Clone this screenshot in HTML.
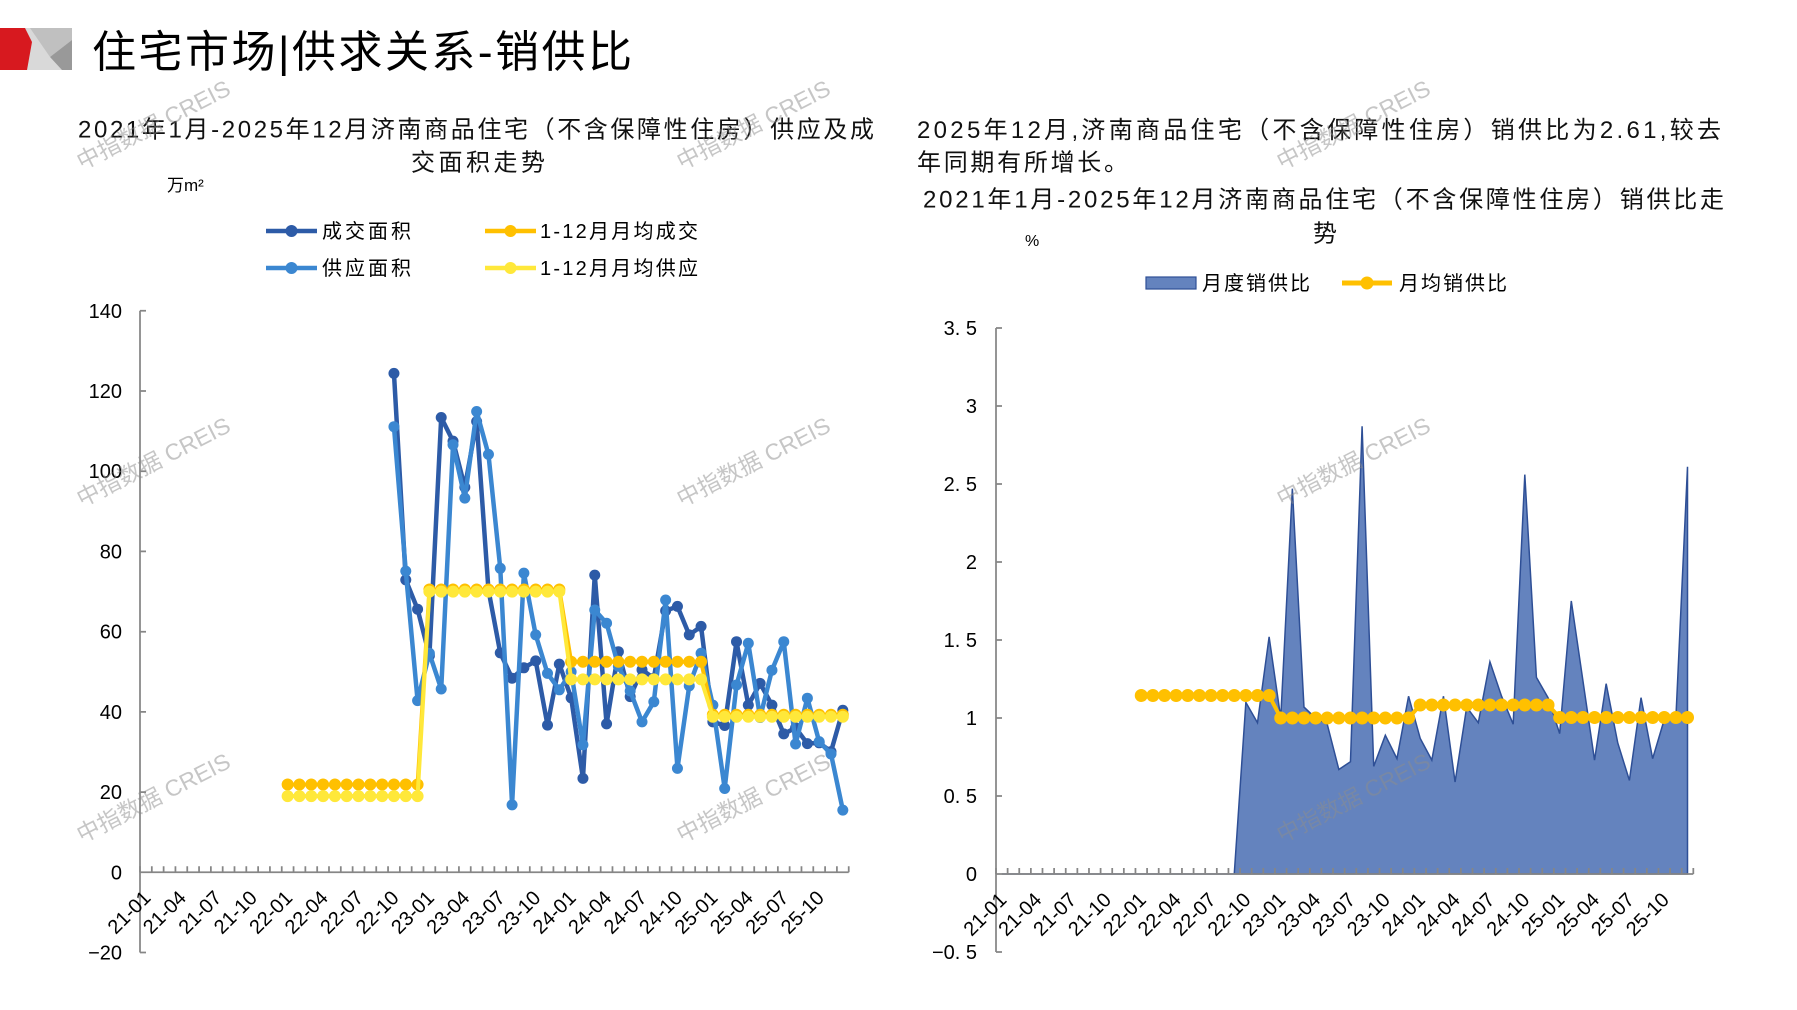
<!DOCTYPE html>
<html><head><meta charset="utf-8"><style>
html,body{margin:0;padding:0;background:#fff;overflow:hidden;}
svg{display:block;}
.cj{font-family:"Liberation Sans","Noto Sans CJK SC",sans-serif;}
.ax{font-family:"Liberation Sans","Noto Sans CJK SC",sans-serif;font-size:20px;fill:#000;}
.wm{font-family:"Liberation Sans","Noto Sans CJK SC",sans-serif;font-size:23px;fill:#8c8c8c;opacity:0.5;}
</style></head><body>
<svg width="1797" height="1010" viewBox="0 0 1797 1010" xmlns="http://www.w3.org/2000/svg">
<defs>
<marker id="mD" markerWidth="14" markerHeight="14" refX="7" refY="7" markerUnits="userSpaceOnUse"><circle cx="7" cy="7" r="5.5" fill="#2D5BA7"/></marker>
<marker id="mL" markerWidth="14" markerHeight="14" refX="7" refY="7" markerUnits="userSpaceOnUse"><circle cx="7" cy="7" r="5.5" fill="#3B87D1"/></marker>
<marker id="mO" markerWidth="14" markerHeight="14" refX="7" refY="7" markerUnits="userSpaceOnUse"><circle cx="7" cy="7" r="6" fill="#FFC000"/></marker>
<marker id="mY" markerWidth="14" markerHeight="14" refX="7" refY="7" markerUnits="userSpaceOnUse"><circle cx="7" cy="7" r="6" fill="#FFE83A"/></marker>
<marker id="mR" markerWidth="16" markerHeight="16" refX="8" refY="8" markerUnits="userSpaceOnUse"><circle cx="8" cy="8" r="6.5" fill="#FFC000"/></marker>
</defs>

<!-- logo -->
<rect x="24" y="28" width="48" height="42" fill="#d9d9d9"/>
<polygon points="30,28 72,28 72,40 50,57" fill="#c0c0c0"/>
<polygon points="50,57 72,40 72,70 62,70" fill="#999999"/>
<polygon points="0,28 25,28 32,42 27,70 0,70" fill="#d7191f"/>

<!-- header title -->
<text class="cj" x="92" y="67" font-size="44" textLength="540" lengthAdjust="spacing" fill="#000">住宅市场|供求关系-销供比</text>

<!-- left titles -->
<text class="cj" x="78" y="137.5" font-size="24" textLength="796" lengthAdjust="spacing" fill="#111">2021年1月-2025年12月济南商品住宅（不含保障性住房）供应及成</text>
<text class="cj" x="411" y="170.5" font-size="24" textLength="134" lengthAdjust="spacing" fill="#111">交面积走势</text>
<text class="cj" x="167" y="191" font-size="17" fill="#000">万m²</text>

<!-- left legend -->
<line x1="266" y1="231" x2="317" y2="231" stroke="#2D5BA7" stroke-width="4.5"/><circle cx="291.5" cy="231" r="6" fill="#2D5BA7"/>
<text class="cj" x="322" y="238" font-size="20" textLength="89" lengthAdjust="spacing">成交面积</text>
<line x1="485" y1="231" x2="536" y2="231" stroke="#FFC000" stroke-width="4.5"/><circle cx="510.5" cy="231" r="6" fill="#FFC000"/>
<text class="cj" x="540" y="238" font-size="20" textLength="158" lengthAdjust="spacing">1-12月月均成交</text>
<line x1="266" y1="268" x2="317" y2="268" stroke="#3B87D1" stroke-width="4.5"/><circle cx="291.5" cy="268" r="6" fill="#3B87D1"/>
<text class="cj" x="322" y="275" font-size="20" textLength="89" lengthAdjust="spacing">供应面积</text>
<line x1="485" y1="268" x2="536" y2="268" stroke="#FFE83A" stroke-width="4.5"/><circle cx="510.5" cy="268" r="6" fill="#FFE83A"/>
<text class="cj" x="540" y="275" font-size="20" textLength="158" lengthAdjust="spacing">1-12月月均供应</text>

<!-- left axes -->
<g stroke="#868686" stroke-width="1.75" fill="none">
<line x1="140" y1="310.8" x2="140" y2="952.5"/>
<line x1="140" y1="872.3" x2="848.7" y2="872.3"/>
<path d="M140 310.8h6M140 391h6M140 471.2h6M140 551.4h6M140 631.7h6M140 711.9h6M140 792.1h6M140 952.5h6"/>
</g>
<line x1="139.125" y1="869.3" x2="849.6" y2="869.3" stroke="#868686" stroke-width="6" stroke-dasharray="1.75 10.062"/>
<g class="ax" text-anchor="end">
<text x="122" y="317.8">140</text>
<text x="122" y="398">120</text>
<text x="122" y="478.2">100</text>
<text x="122" y="558.4">80</text>
<text x="122" y="638.7">60</text>
<text x="122" y="718.9">40</text>
<text x="122" y="799.1">20</text>
<text x="122" y="879.3">0</text>
<text x="122" y="959.5">−20</text>
</g>
<g class="ax" text-anchor="end">
<text transform="translate(151.9,899) rotate(-45)">21-01</text>
<text transform="translate(187.3,899) rotate(-45)">21-04</text>
<text transform="translate(222.8,899) rotate(-45)">21-07</text>
<text transform="translate(258.2,899) rotate(-45)">21-10</text>
<text transform="translate(293.6,899) rotate(-45)">22-01</text>
<text transform="translate(329.1,899) rotate(-45)">22-04</text>
<text transform="translate(364.5,899) rotate(-45)">22-07</text>
<text transform="translate(400,899) rotate(-45)">22-10</text>
<text transform="translate(435.4,899) rotate(-45)">23-01</text>
<text transform="translate(470.8,899) rotate(-45)">23-04</text>
<text transform="translate(506.3,899) rotate(-45)">23-07</text>
<text transform="translate(541.7,899) rotate(-45)">23-10</text>
<text transform="translate(577.1,899) rotate(-45)">24-01</text>
<text transform="translate(612.6,899) rotate(-45)">24-04</text>
<text transform="translate(648,899) rotate(-45)">24-07</text>
<text transform="translate(683.4,899) rotate(-45)">24-10</text>
<text transform="translate(718.9,899) rotate(-45)">25-01</text>
<text transform="translate(754.3,899) rotate(-45)">25-04</text>
<text transform="translate(789.8,899) rotate(-45)">25-07</text>
<text transform="translate(825.2,899) rotate(-45)">25-10</text>
</g>

<!-- left series -->
<g fill="none" stroke-linejoin="round" stroke-linecap="round">
<polyline stroke="#2D5BA7" stroke-width="4.5" marker-start="url(#mD)" marker-mid="url(#mD)" marker-end="url(#mD)" points="393.96,373.4 405.77,579.9 417.58,609.2 429.39,655.7 441.21,417.5 453.02,441.1 464.83,487.3 476.64,421.5 488.45,589.9 500.27,652.9 512.08,678.2 523.89,667.8 535.70,660.9 547.51,725.1 559.33,664.1 571.14,697.8 582.95,778.4 594.76,575.1 606.57,723.9 618.39,651.7 630.20,696.6 642.01,669.8 653.82,678.2 665.63,610.8 677.45,606.4 689.26,634.9 701.07,626.4 712.88,721.9 724.69,725.5 736.51,641.7 748.32,705.1 760.13,683.4 771.94,705.1 783.75,733.9 795.57,727.9 807.38,743.6 819.19,742.8 831.00,751.6 842.82,710.3"/>
<polyline stroke="#3B87D1" stroke-width="4.5" marker-start="url(#mL)" marker-mid="url(#mL)" marker-end="url(#mL)" points="393.96,426.7 405.77,571.1 417.58,700.6 429.39,653.3 441.21,689.0 453.02,444.8 464.83,498.1 476.64,411.5 488.45,454.4 500.27,568.3 512.08,804.9 523.89,573.1 535.70,634.9 547.51,673.4 559.33,689.8 571.14,671.8 582.95,744.8 594.76,610.0 606.57,623.2 618.39,666.2 630.20,691.0 642.01,721.9 653.82,701.8 665.63,600.0 677.45,768.4 689.26,685.8 701.07,653.3 712.88,705.1 724.69,788.5 736.51,685.0 748.32,643.3 760.13,717.5 771.94,670.2 783.75,641.7 795.57,744.0 807.38,698.2 819.19,741.6 831.00,754.0 842.82,810.1"/>
<polyline stroke="#FFC000" stroke-width="4" marker-start="url(#mO)" marker-mid="url(#mO)" marker-end="url(#mO)" points="287.65,784.5 299.46,784.5 311.27,784.5 323.09,784.5 334.90,784.5 346.71,784.5 358.52,784.5 370.33,784.5 382.15,784.5 393.96,784.5 405.77,784.5 417.58,784.5 429.39,589.5 441.21,589.5 453.02,589.5 464.83,589.5 476.64,589.5 488.45,589.5 500.27,589.5 512.08,589.5 523.89,589.5 535.70,589.5 547.51,589.5 559.33,589.5 571.14,661.7 582.95,661.7 594.76,661.7 606.57,661.7 618.39,661.7 630.20,661.7 642.01,661.7 653.82,661.7 665.63,661.7 677.45,661.7 689.26,661.7 701.07,661.7 712.88,714.7 724.69,714.7 736.51,714.7 748.32,714.7 760.13,714.7 771.94,714.7 783.75,714.7 795.57,714.7 807.38,714.7 819.19,714.7 831.00,714.7 842.82,714.7"/>
<polyline stroke="#FFE83A" stroke-width="4" marker-start="url(#mY)" marker-mid="url(#mY)" marker-end="url(#mY)" points="287.65,796.1 299.46,796.1 311.27,796.1 323.09,796.1 334.90,796.1 346.71,796.1 358.52,796.1 370.33,796.1 382.15,796.1 393.96,796.1 405.77,796.1 417.58,796.1 429.39,591.6 441.21,591.6 453.02,591.6 464.83,591.6 476.64,591.6 488.45,591.6 500.27,591.6 512.08,591.6 523.89,591.6 535.70,591.6 547.51,591.6 559.33,591.6 571.14,679.4 582.95,679.4 594.76,679.4 606.57,679.4 618.39,679.4 630.20,679.4 642.01,679.4 653.82,679.4 665.63,679.4 677.45,679.4 689.26,679.4 701.07,679.4 712.88,716.7 724.69,716.7 736.51,716.7 748.32,716.7 760.13,716.7 771.94,716.7 783.75,716.7 795.57,716.7 807.38,716.7 819.19,716.7 831.00,716.7 842.82,716.7"/>
</g>

<!-- right titles -->
<text class="cj" x="917" y="138" font-size="24" textLength="804" lengthAdjust="spacing" fill="#111">2025年12月,济南商品住宅（不含保障性住房）销供比为2.61,较去</text>
<text class="cj" x="917" y="170.5" font-size="24" textLength="211" lengthAdjust="spacing" fill="#111">年同期有所增长。</text>
<text class="cj" x="923" y="207.5" font-size="24" textLength="801" lengthAdjust="spacing" fill="#111">2021年1月-2025年12月济南商品住宅（不含保障性住房）销供比走</text>
<text class="cj" x="1325" y="241.5" font-size="24" text-anchor="middle" fill="#111">势</text>
<text class="cj" x="1025" y="246" font-size="16" fill="#000">%</text>

<!-- right legend -->
<rect x="1146" y="277" width="50" height="12" fill="#6483BE" stroke="#2E4F96" stroke-width="1.2"/>
<text class="cj" x="1202" y="290" font-size="20" textLength="108" lengthAdjust="spacing">月度销供比</text>
<line x1="1342" y1="283" x2="1392" y2="283" stroke="#FFC000" stroke-width="5"/><circle cx="1367" cy="283" r="6.5" fill="#FFC000"/>
<text class="cj" x="1399" y="290" font-size="20" textLength="108" lengthAdjust="spacing">月均销供比</text>

<!-- right area -->
<polygon fill="#6483BE" stroke="#2E4F96" stroke-width="1.5" stroke-linejoin="miter" points="1001.81,874 1234.25,874 1245.87,702.4 1257.49,722.7 1269.12,636.9 1280.74,718.0 1292.36,488.7 1303.98,707.1 1315.60,718.0 1327.23,724.2 1338.85,769.5 1350.47,761.7 1362.09,426.3 1373.71,766.4 1385.34,735.2 1396.96,758.6 1408.58,696.2 1420.20,738.3 1431.82,760.1 1443.45,696.2 1455.07,782.0 1466.69,707.1 1478.31,722.7 1489.93,661.8 1501.56,696.2 1513.18,724.2 1524.80,474.6 1536.42,677.4 1548.04,697.7 1559.67,733.6 1571.29,601.0 1582.91,680.6 1594.53,760.1 1606.15,683.7 1617.78,743.0 1629.40,780.4 1641.02,697.7 1652.64,758.6 1664.26,719.6 1675.89,718.0 1687.51,466.8 1687.51,874"/>

<!-- right axes -->
<g stroke="#868686" stroke-width="1.75" fill="none">
<line x1="996" y1="328" x2="996" y2="952"/>
<line x1="996" y1="874" x2="1693.3" y2="874"/>
<path d="M996 328h6M996 406h6M996 484h6M996 562h6M996 640h6M996 718h6M996 796h6M996 952h6"/>
</g>
<line x1="995.125" y1="871" x2="1694.2" y2="871" stroke="#868686" stroke-width="6" stroke-dasharray="1.75 9.872"/>
<g class="ax" text-anchor="end">
<text x="977" y="335">3. 5</text>
<text x="977" y="413">3</text>
<text x="977" y="491">2. 5</text>
<text x="977" y="569">2</text>
<text x="977" y="647">1. 5</text>
<text x="977" y="725">1</text>
<text x="977" y="803">0. 5</text>
<text x="977" y="881">0</text>
<text x="977" y="959">−0. 5</text>
</g>
<g class="ax" text-anchor="end">
<text transform="translate(1007.8,901) rotate(-45)">21-01</text>
<text transform="translate(1042.7,901) rotate(-45)">21-04</text>
<text transform="translate(1077.5,901) rotate(-45)">21-07</text>
<text transform="translate(1112.4,901) rotate(-45)">21-10</text>
<text transform="translate(1147.3,901) rotate(-45)">22-01</text>
<text transform="translate(1182.1,901) rotate(-45)">22-04</text>
<text transform="translate(1217,901) rotate(-45)">22-07</text>
<text transform="translate(1251.9,901) rotate(-45)">22-10</text>
<text transform="translate(1286.7,901) rotate(-45)">23-01</text>
<text transform="translate(1321.6,901) rotate(-45)">23-04</text>
<text transform="translate(1356.5,901) rotate(-45)">23-07</text>
<text transform="translate(1391.3,901) rotate(-45)">23-10</text>
<text transform="translate(1426.2,901) rotate(-45)">24-01</text>
<text transform="translate(1461.1,901) rotate(-45)">24-04</text>
<text transform="translate(1495.9,901) rotate(-45)">24-07</text>
<text transform="translate(1530.8,901) rotate(-45)">24-10</text>
<text transform="translate(1565.7,901) rotate(-45)">25-01</text>
<text transform="translate(1600.5,901) rotate(-45)">25-04</text>
<text transform="translate(1635.4,901) rotate(-45)">25-07</text>
<text transform="translate(1670.3,901) rotate(-45)">25-10</text>
</g>

<!-- right orange line -->
<polyline fill="none" stroke="#FFC000" stroke-width="4" stroke-linejoin="round" marker-start="url(#mR)" marker-mid="url(#mR)" marker-end="url(#mR)" points="1141.27,695.5 1152.90,695.5 1164.52,695.5 1176.14,695.5 1187.76,695.5 1199.38,695.5 1211.01,695.5 1222.63,695.5 1234.25,695.5 1245.87,695.5 1257.49,695.5 1269.12,695.5 1280.74,718 1292.36,718 1303.98,718 1315.60,718 1327.23,718 1338.85,718 1350.47,718 1362.09,718 1373.71,718 1385.34,718 1396.96,718 1408.58,718 1420.20,705 1431.82,705 1443.45,705 1455.07,705 1466.69,705 1478.31,705 1489.93,705 1501.56,705 1513.18,705 1524.80,705 1536.42,705 1548.04,705 1559.67,717.5 1571.29,717.5 1582.91,717.5 1594.53,717.5 1606.15,717.5 1617.78,717.5 1629.40,717.5 1641.02,717.5 1652.64,717.5 1664.26,717.5 1675.89,717.5 1687.51,717.5"/>

<!-- watermarks -->
<g class="wm" text-anchor="middle">
<text transform="translate(157,132) rotate(-27)">中指数据 CREIS</text>
<text transform="translate(757,132) rotate(-27)">中指数据 CREIS</text>
<text transform="translate(1357,132) rotate(-27)">中指数据 CREIS</text>
<text transform="translate(157,469) rotate(-27)">中指数据 CREIS</text>
<text transform="translate(757,469) rotate(-27)">中指数据 CREIS</text>
<text transform="translate(1357,469) rotate(-27)">中指数据 CREIS</text>
<text transform="translate(157,805) rotate(-27)">中指数据 CREIS</text>
<text transform="translate(757,805) rotate(-27)">中指数据 CREIS</text>
<text transform="translate(1357,805) rotate(-27)">中指数据 CREIS</text>
</g>
</svg>
</body></html>
